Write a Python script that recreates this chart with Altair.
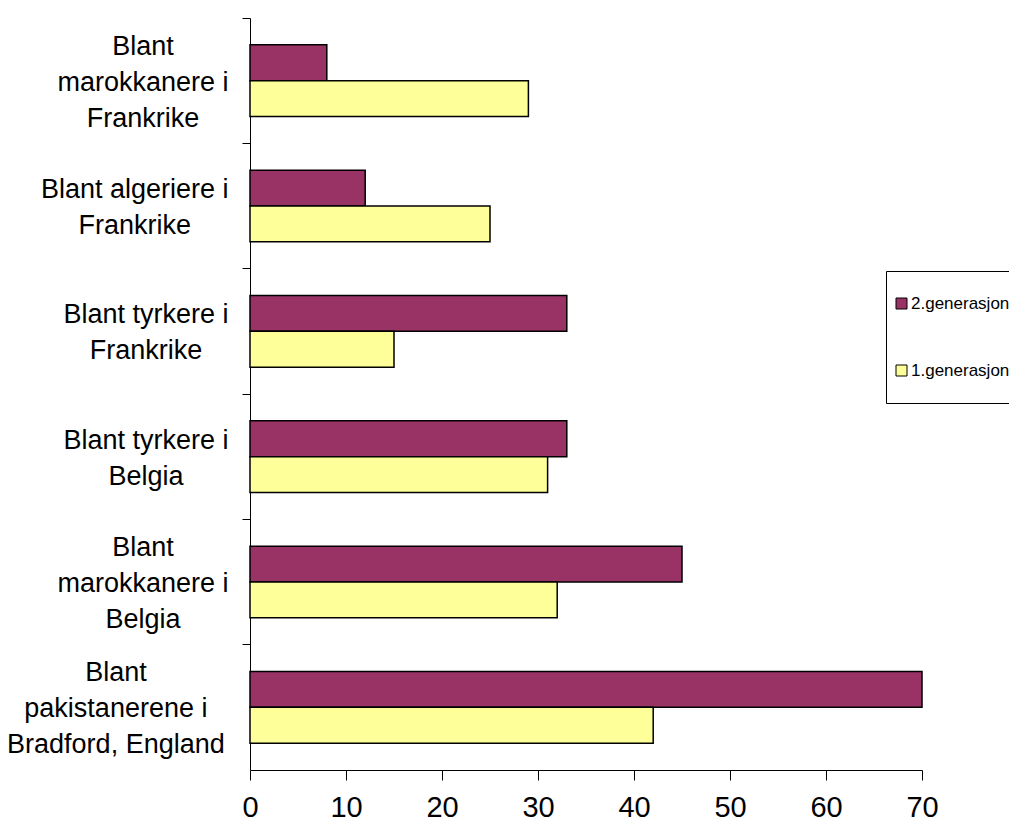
import json
import altair as alt
import pandas as pd

categories = [
    "Blant\nmarokkanere i\nFrankrike",
    "Blant algeriere i\nFrankrike",
    "Blant tyrkere i\nFrankrike",
    "Blant tyrkere i\nBelgia",
    "Blant\nmarokkanere i\nBelgia",
    "Blant\npakistanerene i\nBradford, England",
]
series = ["2.generasjon", "1.generasjon"]
gen2 = [8, 12, 33, 33, 45, 70]
gen1 = [29, 25, 15, 31, 32, 42]
x_ticks = [0, 10, 20, 30, 40, 50, 60, 70]

rows = []
for c, a, b in zip(categories, gen2, gen1):
    rows.append({"kategori": c, "serie": series[0], "verdi": a})
    rows.append({"kategori": c, "serie": series[1], "verdi": b})
df = pd.DataFrame(rows)

# Arial-compatible advance widths (per 1000 em) to centre each label block
W = {"B": 667, "l": 222, "a": 556, "n": 556, "t": 278, "m": 833, "r": 333, "o": 556,
     "k": 500, "e": 556, "i": 222, "F": 611, "g": 556, "y": 500, "s": 500, "p": 556,
     "d": 556, ",": 278, "E": 667, " ": 278, "j": 222}
FS = 27
LH = 36
def block_width(label):
    return max(sum(W.get(ch, 556) for ch in line) for line in label.split("\n")) * FS / 1000.0

pads = [round(14 + block_width(c) / 2, 1) for c in categories]
offs = [round(-(len(c.split("\n")) - 1) * LH / 2 + 2, 1) for c in categories]
cats_js = json.dumps(categories)
pad_expr = "%s[indexof(%s, datum.value)]" % (json.dumps(pads), cats_js)
off_expr = "%s[indexof(%s, datum.value)]" % (json.dumps(offs), cats_js)

FONT = "Liberation Sans"

chart = alt.Chart(df).mark_bar(stroke="black", strokeWidth=1.5).encode(
    x=alt.X(
        "verdi:Q",
        scale=alt.Scale(domain=[0, 70], nice=False, zero=True),
        axis=alt.Axis(
            values=x_ticks, title=None, grid=False,
            domainColor="black", domainWidth=1,
            tickColor="black", tickSize=10, tickWidth=1,
            labelFont=FONT, labelFontSize=29, labelColor="black",
            labelPadding=13, labelFlush=False,
        ),
    ),
    y=alt.Y(
        "kategori:N",
        sort=categories,
        scale=alt.Scale(paddingInner=0, paddingOuter=0),
        axis=alt.Axis(
            title=None, grid=False,
            domainColor="black", domainWidth=1,
            tickColor="black", tickSize=8, tickWidth=1, bandPosition=0,
            labelFont=FONT, labelFontSize=FS, labelColor="black",
            labelAlign="center", labelBaseline="middle", labelLineHeight=LH,
            labelExpr="split(datum.label, '\\n')",
            labelPadding=alt.ExprRef(expr=pad_expr),
            labelOffset=alt.ExprRef(expr=off_expr),
            labelLimit=400,
        ),
    ),
    yOffset=alt.YOffset(
        "serie:N", sort=series,
        scale=alt.Scale(paddingOuter=0.75, paddingInner=0),
    ),
    color=alt.Color(
        "serie:N",
        scale=alt.Scale(domain=series, range=["#993366", "#FFFF99"]),
        legend=alt.Legend(
            title=" ", titleFontSize=10, titlePadding=7,
            orient="none", legendX=636, legendY=253,
            direction="vertical",
            strokeColor="black", fillColor="white", padding=7,
            symbolType="square", symbolSize=121,
            symbolStrokeColor="black", symbolStrokeWidth=1,
            labelFont=FONT, labelFontSize=17, labelColor="black",
            labelOffset=1, rowPadding=32, labelLimit=300,
            labelExpr="[datum.label, ' ']",
        ),
    ),
).properties(
    width=672,
    height=752,
    autosize=alt.AutoSizeParams(type="none"),
    padding={"left": 242, "top": 10, "right": 87, "bottom": 53},
).configure(
    background="white",
    style={"guide-label": {"lineHeight": 17}},
).configure_view(
    stroke=None
)

chart.save("out.html", embed_options={"renderer": "svg", "actions": False})
